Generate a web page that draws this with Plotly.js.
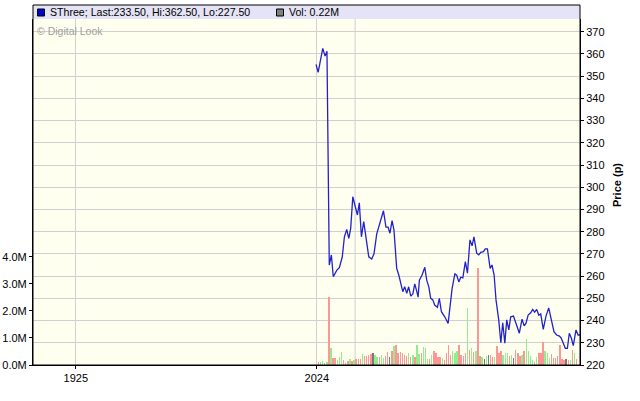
<!DOCTYPE html>
<html><head><meta charset="utf-8">
<script src="https://cdn.plot.ly/plotly-3.0.1.min.js"></script>
<style>html,body{margin:0;padding:0;background:#fff;}#chart{width:640px;height:401px;}</style>
</head><body><div id="chart"></div>
<script>
// ---- data ----
const seriesName = 'SThree';
const priceT = [-1.1,-0.1,2.1,3.2,4.1,5.2,6.2,7.1,8.8,10,
  11.4,12.4,13.5,14.5,15.4,16.4,17.6,18.6,19.5,20.5,
  21.6,22.9,24,25.4,26.5,27.8,29.4,31,32.2,33.2,
  34.1,35.1,36,37.3,38.3,39.2,40.2,41.1,42.1,43,
  44,45,45.9,46.9,47.5,48.1,49.4,50.7,51.6,52.6,
  53.5,54.5,55.4,56.7,57.6,58.6,60.2,61.8,62.7,63.7,
  65,65.9,66.9,67.8,68.8,70,71,72.2,73.2,74.1,
  75.4,76.4,77.3,78.6,79.5,80.5,81.8,82.7,83.7,84.6,
  85.9,86.9,87.8,88.8,89.7,90.7,91.6,92.9,94.1,95.7,
  97,98,98.9,99.9,101.1,102.1,103,104,105,105.9,
  107.1,108.4,109.7,111,112.2,113.5,114.8,115.7,116.7,117.6,
  118.6,119.5,120.5,121.4,122.7,123.7,124.6];
const priceVals = [355.3,351.7,362.5,359,361.2,265,269.5,259.7,262.7,263.8,
  268.7,277.7,281,277,281.5,295.7,291.2,287.5,293,277.7,
  284.5,274.8,268.7,267.7,270,279,283.8,289.4,282,282,
  279.3,285,280.8,263.5,260.5,256.8,253,255.2,252.3,255.2,
  251,252,256.5,253,250.5,258.2,260.5,264,258.2,255.2,
  250,249.3,247,246,250,244,241.7,238.7,246.2,254.5,
  261,260.4,257.4,259.5,259.2,266.5,261.3,276.3,273.6,277.7,
  270.3,269.6,270.7,271,272.3,272.3,263.5,265,260.5,249.3,
  240.3,230,239,229.8,240.3,235.8,241.7,242,238.8,234.3,
  240.6,237.6,238.8,242.5,243.5,245,243.8,245,242.4,243,
  236,242,245.7,240.3,235,233.5,233,232,229.8,227.5,
  227.5,234.3,232,228.7,235.8,233.5,233.5];
// volume in millions, one bar per trading day (x = bar index)
const volVals = [0.10,0.11,0.13,0.08,0.10,2.53,0.64,0.27,0.27,0.19,
  0.31,0.49,0.19,0.09,0.15,0.22,0.14,0.19,0.22,0.22,
  0.23,0.41,0.33,0.35,0.36,0.41,0.46,0.38,0.31,0.31,
  0.38,0.26,0.33,0.48,0.31,0.51,0.70,0.75,0.43,0.49,
  0.43,0.36,0.33,0.43,0.28,0.36,0.28,0.73,0.41,0.46,
  0.68,0.64,0.23,0.23,0.38,0.53,0.43,0.31,0.31,0.27,
  0.19,0.46,0.74,0.37,0.52,0.46,0.52,0.74,0.37,0.35,
  0.46,2.11,0.56,0.64,0.48,0.52,3.58,0.33,0.28,0.21,
  0.33,0.37,0.36,0.31,0.31,0.70,0.43,0.52,0.37,0.43,
  0.46,0.33,0.37,0.26,0.56,0.43,0.33,0.37,0.52,0.96,
  0.52,0.33,0.19,0.12,0.31,0.46,0.43,0.85,0.52,0.43,
  0.27,0.41,0.26,0.26,0.33,0.74,0.21,0.19,0.22,0.17,
  0.19,0.56,0.46,0.22];
const volDir = ['d','u','u','d','u','d','u','d','d','u',
  'u','u','d','d','d','u','d','u','d','d',
  'd','u','d','d','d','d','n','u','u','d',
  'u','u','d','d','n','d','u','d','d','d',
  'd','d','d','u','d','u','d','u','u','d',
  'u','u','u','d','u','d','d','d','d','u',
  'd','d','d','d','u','u','u','d','d','d',
  'd','u','d','u','d','u','d','d','u','n',
  'u','n','d','d','u','d','d','d','u','u',
  'u','d','u','n','d','d','d','u','d','u',
  'u','u','u','d','u','d','d','d','u','u',
  'u','d','d','d','d','d','d','d','n','d',
  'u','d','u','d'];
const xTickVals = [-115.5, -0.76];
const xTickText = ['1925', '2024'];
const xExtraGrid = [17.5];
const priceTicks = [220,230,240,250,260,270,280,290,300,310,320,330,340,350,360,370];
const volTicks = [0,1,2,3,4];
const volTickText = ['0.0M','1.0M','2.0M','3.0M','4.0M'];

// ---- styling / build ----
const dirColor = {u:'#90ee90', d:'#ff9696', n:'#7a7a7a'};
const FONT = 'Liberation Sans, Arial, sans-serif';
const hi = Math.max(...priceVals), lo = Math.min(...priceVals), last = priceVals[priceVals.length-1];
const lastVol = volVals[volVals.length-1];

const W = 640, H = 401, L = 33, R = 60, T = 19, B = 36;
const pw = W - L - R, ph = H - T - B;
const px = v => (v - L) / pw;          // pixel x -> paper
const py = v => (H - B - v) / ph;      // pixel y -> paper

const traces = [
  {type:'bar', y: volVals, marker:{color: volDir.map(d => dirColor[d]), line:{width:0}},
   width: 0.7, yaxis:'y', xaxis:'x', hoverinfo:'skip'},
  {type:'scatter', mode:'lines', x: priceT, y: priceVals, yaxis:'y2', xaxis:'x',
   line:{color:'#2222cc', width:1.3}, hoverinfo:'skip'}
];

const grid = '#d0d0d0';
const shapes = [
  {type:'rect', xref:'paper', yref:'paper', x0:0, x1:1, y0:1, y1:py(5), fillcolor:'#e4e4f6', line:{width:0}, layer:'above'},
  {type:'rect', xref:'paper', yref:'paper', x0:0, x1:1, y0:0, y1:py(5), fillcolor:'rgba(0,0,0,0)', line:{color:'#000', width:1}, layer:'above'},
  {type:'rect', xref:'paper', yref:'paper', x0:px(37.5), x1:px(44.5), y0:py(16), y1:py(9), fillcolor:'#0000cc', line:{color:'#000', width:1}, layer:'above'},
  {type:'rect', xref:'paper', yref:'paper', x0:px(276.5), x1:px(283.5), y0:py(16), y1:py(9), fillcolor:'#808080', line:{color:'#000', width:1}, layer:'above'}
];
xExtraGrid.forEach(v => shapes.push({type:'line', xref:'x', yref:'paper', x0:v, x1:v, y0:0, y1:1, line:{color:grid, width:1}, layer:'below'}));

const annotations = [
  {xref:'paper', yref:'paper', x:px(48), y:py(12), xanchor:'left', yanchor:'middle', showarrow:false,
   text: `${seriesName}; Last:${last.toFixed(2)}, Hi:${hi.toFixed(2)}, Lo:${lo.toFixed(2)}`,
   font:{family:FONT, size:10.6, color:'#000'}},
  {xref:'paper', yref:'paper', x:px(287), y:py(12), xanchor:'left', yanchor:'middle', showarrow:false,
   text: `Vol: ${lastVol.toFixed(2)}M`, font:{family:FONT, size:10.6, color:'#000'}},
  {xref:'paper', yref:'paper', x:px(35), y:py(31), xanchor:'left', yanchor:'middle', showarrow:false,
   text:'© Digital Look', font:{family:FONT, size:10.5, color:'#a0a0a0'}},
  {xref:'paper', yref:'paper', x:px(617), y:py(185), xanchor:'center', yanchor:'middle', showarrow:false,
   textangle:-90, text:'<b>Price (p)</b>', font:{family:FONT, size:11, color:'#000'}}
];

const layout = {
  width: W, height: H,
  margin:{l:L, r:R, t:T, b:B, pad:0},
  paper_bgcolor:'#ffffff', plot_bgcolor:'#fffff0',
  showlegend:false,
  font:{family:FONT, size:11, color:'#000'},
  bargap:0,
  xaxis:{range:[-135.9, 124.6], tickmode:'array', tickvals:xTickVals, ticktext:xTickText,
    ticks:'outside', ticklen:3, tickcolor:'#000', showline:true, linecolor:'#000', linewidth:1,
    showgrid:true, gridcolor:grid, zeroline:false, tickfont:{family:FONT, size:11}, fixedrange:true},
  yaxis:{range:[0, 12.78], tickmode:'array', tickvals:volTicks, ticktext:volTickText, side:'left',
    ticks:'outside', ticklen:3, tickcolor:'#000', showline:true, linecolor:'#000', linewidth:1,
    showgrid:false, zeroline:false, tickfont:{family:FONT, size:11}, fixedrange:true},
  yaxis2:{range:[220, 375.7], overlaying:'y', side:'right', tickmode:'array', tickvals:priceTicks,
    ticks:'outside', ticklen:3, tickcolor:'#000', showline:true, linecolor:'#000', linewidth:1,
    showgrid:true, gridcolor:grid, zeroline:false, tickfont:{family:FONT, size:11}, fixedrange:true},
  shapes: shapes,
  annotations: annotations
};

Plotly.newPlot('chart', traces, layout, {staticPlot:true, displayModeBar:false});
</script></body></html>
